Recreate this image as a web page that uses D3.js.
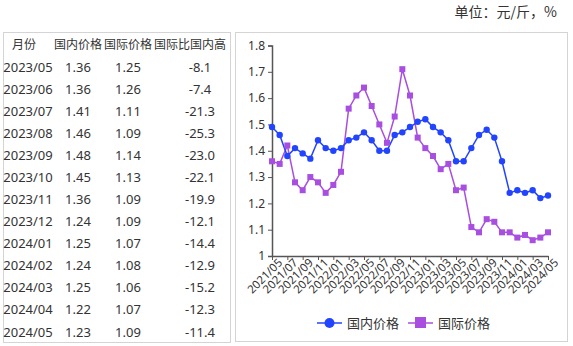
<!DOCTYPE html>
<html><head><meta charset="utf-8">
<script src="https://cdn.jsdelivr.net/npm/d3@7"></script>
<style>
body{margin:0;background:#fff;font-family:"Noto Sans CJK SC","Noto Sans",sans-serif;}
</style></head>
<body><svg id="c" width="573" height="346"></svg>
<script>
const months = ["2021/05","2021/06","2021/07","2021/08","2021/09","2021/10","2021/11","2021/12","2022/01","2022/02","2022/03","2022/04","2022/05","2022/06","2022/07","2022/08","2022/09","2022/10","2022/11","2022/12","2023/01","2023/02","2023/03","2023/04","2023/05","2023/06","2023/07","2023/08","2023/09","2023/10","2023/11","2023/12","2024/01","2024/02","2024/03","2024/04","2024/05"];
const domestic = [1.49,1.46,1.38,1.41,1.39,1.37,1.44,1.41,1.40,1.41,1.44,1.45,1.47,1.44,1.40,1.40,1.46,1.47,1.49,1.51,1.52,1.49,1.47,1.44,1.36,1.36,1.41,1.46,1.48,1.45,1.36,1.24,1.25,1.24,1.25,1.22,1.23];
const international = [1.36,1.35,1.42,1.28,1.25,1.30,1.28,1.24,1.27,1.32,1.56,1.61,1.64,1.57,1.50,1.43,1.53,1.71,1.61,1.45,1.41,1.38,1.33,1.35,1.25,1.26,1.11,1.09,1.14,1.13,1.09,1.09,1.07,1.08,1.06,1.07,1.09];
const tableHeader = ["月份","国内价格","国际价格","国际比国内高"];
const tableMonths = ["2023/05","2023/06","2023/07","2023/08","2023/09","2023/10","2023/11","2023/12","2024/01","2024/02","2024/03","2024/04","2024/05"];
const tableDomestic = ["1.36","1.36","1.41","1.46","1.48","1.45","1.36","1.24","1.25","1.24","1.25","1.22","1.23"];
const tableIntl = ["1.25","1.26","1.11","1.09","1.14","1.13","1.09","1.09","1.07","1.08","1.06","1.07","1.09"];
const tableDiff = ["-8.1","-7.4","-21.3","-25.3","-23.0","-22.1","-19.9","-12.1","-14.4","-12.9","-15.2","-12.3","-11.4"];
const yTicks = [1,1.1,1.2,1.3,1.4,1.5,1.6,1.7,1.8];
const seriesNames = ["国内价格","国际价格"];
const unitText = "单位：元/斤，%";

const svg = d3.select("#c");
const BLUE = "#2244ff", PURPLE = "#a84ee0", TXT = "#333";

svg.append("text").attr("x",557).attr("y",17).attr("text-anchor","end")
  .attr("font-size",14).attr("fill",TXT).text(unitText);

// panels
svg.append("rect").attr("x",3.5).attr("y",32.5).attr("width",227).attr("height",310)
  .attr("fill","#fff").attr("stroke","#d4d4d4");
svg.append("rect").attr("x",235.5).attr("y",32.5).attr("width",332).attr("height",309)
  .attr("fill","#fff").attr("stroke","#d4d4d4");

// table
const colX = [28,78,128,200];
const tbl = svg.append("g").attr("fill",TXT);
tableHeader.forEach((h,i)=>{
  tbl.append("text").attr("x",i===0?24:colX[i]+(i===3?-10:0)).attr("y",49).attr("text-anchor","middle")
    .attr("font-size",12).attr("fill",TXT).text(h);
});
const rowY = d3.scaleLinear().domain([0,12]).range([71.5,336.5]);
tableMonths.forEach((m,r)=>{
  const y = rowY(r);
  [m,tableDomestic[r],tableIntl[r],tableDiff[r]].forEach((v,i)=>{
    tbl.append("text").attr("x",colX[i]).attr("y",y).attr("text-anchor","middle")
      .attr("font-size",13).attr("font-family","Noto Sans,sans-serif").attr("fill",TXT).text(v);
  });
});

// chart
const x = d3.scalePoint().domain(months).range([272,548]);
const y = d3.scaleLinear().domain([1,1.8]).range([256,45.5]);

const yAxis = svg.append("g").attr("transform","translate(272,0)")
  .call(d3.axisLeft(y).tickValues(yTicks).tickSize(4).tickFormat(d=>d===1?"1":d3.format(".1f")(d)));
yAxis.select(".domain").attr("stroke","#555").attr("stroke-width",1.5);
yAxis.selectAll(".tick line").attr("stroke","#555");
yAxis.selectAll("text").attr("font-size",12).attr("fill",TXT).attr("font-family","Noto Sans,sans-serif");

const xAxis = svg.append("g").attr("transform","translate(0,256)")
  .call(d3.axisBottom(x).tickValues(months.filter((d,i)=>i%2===0)).tickSize(4).tickSizeOuter(0));
xAxis.select(".domain").attr("stroke","#555").attr("stroke-width",1.5);
xAxis.selectAll(".tick line").attr("stroke","#555");
xAxis.selectAll("text").attr("font-size",11.5).attr("fill",TXT).attr("font-family","Noto Sans,sans-serif")
  .attr("text-anchor","end").attr("dx","0.2em").attr("dy","0.5em")
  .attr("transform","rotate(-45)");

const line = d3.line().x((d,i)=>x(months[i])).y(d=>y(d));
svg.append("path").datum(international).attr("d",line).attr("fill","none").attr("stroke",PURPLE).attr("stroke-width",1.5);
svg.append("path").datum(domestic).attr("d",line).attr("fill","none").attr("stroke",BLUE).attr("stroke-width",1.5);
svg.append("g").selectAll("rect").data(international).join("rect")
  .attr("x",(d,i)=>x(months[i])-3).attr("y",d=>y(d)-3).attr("width",6).attr("height",6).attr("fill",PURPLE);
svg.append("g").selectAll("circle").data(domestic).join("circle")
  .attr("cx",(d,i)=>x(months[i])).attr("cy",d=>y(d)).attr("r",3.2).attr("fill",BLUE);

// legend
const lg = svg.append("g").attr("font-size",13).attr("fill",TXT);
lg.append("line").attr("x1",317).attr("x2",342).attr("y1",323).attr("y2",323).attr("stroke",BLUE).attr("stroke-width",1.5);
lg.append("circle").attr("cx",329.5).attr("cy",323).attr("r",5).attr("fill",BLUE);
lg.append("text").attr("x",347).attr("y",328).attr("fill",TXT).text(seriesNames[0]);
lg.append("line").attr("x1",408).attr("x2",433).attr("y1",323).attr("y2",323).attr("stroke",PURPLE).attr("stroke-width",1.5);
lg.append("rect").attr("x",415).attr("y",317).attr("width",11).attr("height",11).attr("fill",PURPLE);
lg.append("text").attr("x",438).attr("y",328).attr("fill",TXT).text(seriesNames[1]);
</script></body></html>
